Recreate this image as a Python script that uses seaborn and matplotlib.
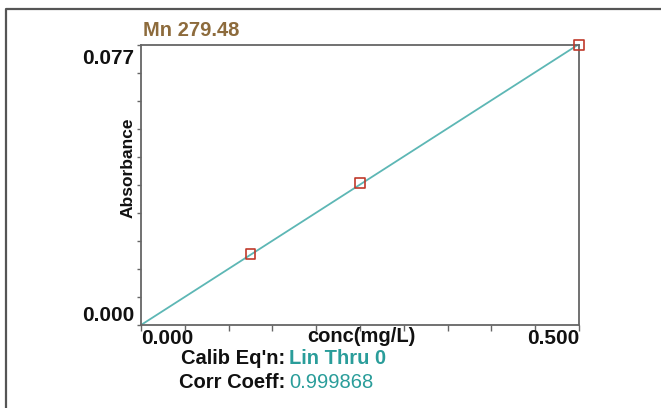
import numpy as np
import pandas as pd
import matplotlib
matplotlib.use("Agg")
import matplotlib.pyplot as plt
import matplotlib.transforms as mtransforms
from matplotlib.lines import Line2D
import seaborn as sns

# ---- data ----
conc = [0.125, 0.25, 0.5]
absorbance = [0.0195, 0.0390, 0.0770]
x_limits = [0.0, 0.5]
y_limits = [0.0, 0.077]
x_tick_labels = ["0.000", "0.500"]
y_tick_labels = ["0.000", "0.077"]
title = "Mn 279.48"
calib_label, calib_value = "Calib Eq'n:", "Lin Thru 0"
corr_label, corr_value = "Corr Coeff:", "0.999868"

sns.set_theme(style="white")
plt.rcParams['font.family'] = ['Liberation Sans', 'DejaVu Sans']

W, H = 661, 408
fig = plt.figure(figsize=(W / 100, H / 100), dpi=100)
L, R, T, B = 141, 579, 45, 325
ax = fig.add_axes([L / W, 1 - B / H, (R - L) / W, (B - T) / H])

# linear fit through zero
x = np.array(conc); y = np.array(absorbance)
slope = (x * y).sum() / (x * x).sum()
fit = pd.DataFrame({"conc": x_limits, "abs": [slope * v for v in x_limits]})
pts = pd.DataFrame({"conc": conc, "abs": absorbance})

teal = "#5db7b5"
sns.lineplot(data=fit, x="conc", y="abs", ax=ax, color=teal, lw=1.3)
sns.scatterplot(data=pts, x="conc", y="abs", ax=ax, marker="s", s=50,
                facecolor="none", edgecolor="#c0392b", linewidth=1.2, zorder=5,
                clip_on=False)

ax.set_xlim(*x_limits)
ax.set_ylim(*y_limits)

xt = np.linspace(x_limits[0], x_limits[1], 11)
yt = np.linspace(y_limits[0], y_limits[1], 11)
ax.set_xticks(xt)
ax.set_yticks(yt)
xl = [""] * len(xt); xl[0], xl[-1] = x_tick_labels
yl = [""] * len(yt); yl[0], yl[-1] = y_tick_labels
ax.set_xticklabels(xl)
ax.set_yticklabels(yl)

ax.tick_params(axis="x", direction="out", length=4, width=1.0, color="#666666",
               labelsize=15, labelcolor="#111111", pad=-1, bottom=True)
ax.tick_params(axis="y", direction="out", length=3, width=1.0, color="#666666",
               labelsize=15, labelcolor="#111111", pad=2, left=True)
for lab in ax.get_xticklabels() + ax.get_yticklabels():
    lab.set_fontweight("bold")
xlabs = ax.get_xticklabels()
xlabs[0].set_ha("left"); xlabs[-1].set_ha("right")
ylabs = ax.get_yticklabels()
ylabs[0].set_va("bottom"); ylabs[-1].set_va("top")
ylabs[-1].set_transform(ylabs[-1].get_transform() +
                        mtransforms.ScaledTranslation(0, -4 / 100, fig.dpi_scale_trans))

for s in ax.spines.values():
    s.set_color("#666666"); s.set_linewidth(1.3); s.set_visible(True)

ax.set_xlabel(""); ax.set_ylabel("")

def fx(px): return px / W
def fy(py): return 1 - py / H

fig.text(fx(143), fy(31), title, color="#8d6b3c", fontsize=14.5, fontweight="bold",
         ha="left", va="center")
fig.text(fx(361), fy(337), "conc(mg/L)", color="#111111", fontsize=14.5,
         fontweight="bold", ha="center", va="center")
fig.text(fx(128), fy(168), "Absorbance", color="#111111", fontsize=12.5,
         fontweight="bold", ha="center", va="center", rotation=90)

fig.text(fx(285), fy(358), calib_label, color="#111111", fontsize=14.5,
         fontweight="bold", ha="right", va="center")
fig.text(fx(289), fy(358), calib_value, color="#2a9d9a", fontsize=14.5,
         fontweight="bold", ha="left", va="center")
fig.text(fx(285), fy(383), corr_label, color="#111111", fontsize=14.5,
         fontweight="bold", ha="right", va="center")
fig.text(fx(289), fy(383), corr_value, color="#2a9d9a", fontsize=14.5,
         ha="left", va="center")

# outer frame (top + left)
fig.add_artist(Line2D([fx(6), fx(6), 1.0], [0.0, fy(9), fy(9)],
                      transform=fig.transFigure, color="#555555", lw=1.6))

fig.savefig("out.png", dpi=100)
